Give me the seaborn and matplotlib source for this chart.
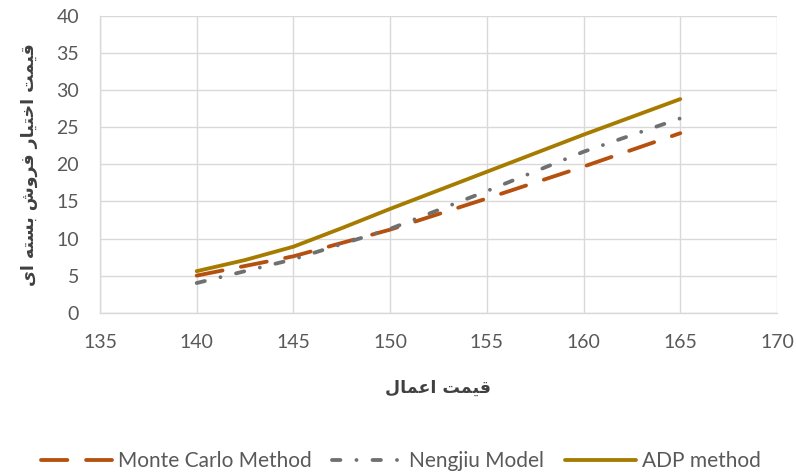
import matplotlib
matplotlib.use("Agg")
import matplotlib.pyplot as plt
import seaborn as sns
import pandas as pd

strike_adp = [140, 142.5, 145, 147.5, 150, 155, 160, 165]
adp = [5.6, 7.1, 8.9, 11.4, 14.0, 19.0, 24.0, 28.8]
strike = [140, 145, 150, 155, 160, 165]
monte_carlo = [5.0, 7.6, 11.2, 15.4, 19.7, 24.2]
nengjiu = [4.0, 7.2, 11.3, 16.4, 21.7, 26.2]
series_names = ["Monte Carlo Method", "Nengjiu Model", "ADP method"]
x_ticks = [135, 140, 145, 150, 155, 160, 165, 170]
y_ticks = [0, 5, 10, 15, 20, 25, 30, 35, 40]

# Persian labels written with Arabic presentation forms in visual order
# x: "قیمت اعمال"
x_label = "\uFEDD\uFE8E\uFEE4\uFECB\uFE8D \uFE96\uFEE4\uFEF4\uFED7"
# y: "قیمت اختیار فروش بسته ای"
y_label = ("\uFEEF\uFE8D \uFEEA\uFE98\uFEB4\uFE91 \uFEB5\uFEED\uFEAE\uFED3 "
           "\uFEAD\uFE8E\uFEF4\uFE98\uFEA7\uFE8D \uFE96\uFEE4\uFEF4\uFED7")

sns.set_theme(style="white")
plt.rcParams['font.family'] = ['Lato', 'DejaVu Sans']

fig = plt.figure(figsize=(7.96, 4.75), dpi=100)
ax = fig.add_axes([0.1256, 0.3417, 0.8505, 0.6246])

colors = ["#B5500F", "#707070", "#A67C00"]
dash_list = [(6.9, 4.9), (2.2, 4.2, 0.01, 4.2), None]
xs = [strike, strike, strike_adp]
for name, xv, vals, col, dsh in zip(series_names, xs, [monte_carlo, nengjiu, adp], colors, dash_list):
    df = pd.DataFrame({"x": xv, "y": vals})
    sns.lineplot(data=df, x="x", y="y", color=col, linewidth=2.75, label=name, ax=ax)
    ln = ax.lines[-1]
    if dsh is not None:
        ln.set_dashes(dsh)
    ln.set_dash_capstyle("round")
    ln.set_solid_capstyle("round")

ax.set_xlim(135, 170)
ax.set_ylim(0, 40)
ax.set_xticks(x_ticks)
ax.set_yticks(y_ticks)
ax.grid(True, color="#D9D9D9", linewidth=1.0)
ax.set_axisbelow(True)
for s in ["top", "right"]:
    ax.spines[s].set_visible(False)
for s in ["left", "bottom"]:
    ax.spines[s].set_color("#D9D9D9")
    ax.spines[s].set_linewidth(1.0)
ax.tick_params(axis="both", labelsize=14, colors="#595959", length=0, pad=15)

ax.set_xlabel(x_label, family="DejaVu Sans", fontweight="bold", fontsize=12.5,
              color="#404040", labelpad=20)
ax.set_ylabel(y_label, family="DejaVu Sans", fontweight="bold", fontsize=12.5,
              color="#404040", labelpad=13)

leg = ax.legend(loc="center", bbox_to_anchor=(401 / 796, 14 / 475),
                bbox_transform=fig.transFigure, ncol=3, frameon=False,
                fontsize=15, handlelength=3.4, columnspacing=1.0, handletextpad=0.3)
for t in leg.get_texts():
    t.set_color("#595959")

fig.savefig("out.png", dpi=100)
